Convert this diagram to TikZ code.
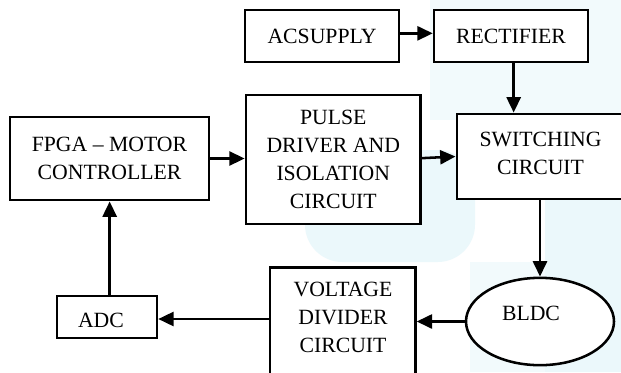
\documentclass[tikz,border=0pt]{standalone}
\usepackage{fontspec}
\setmainfont{Liberation Serif}
\usetikzlibrary{arrows.meta,shapes.geometric}
\definecolor{wm}{HTML}{EBF8FB}
\definecolor{wmb}{HTML}{F2FAFC}
\begin{document}
\begin{tikzpicture}[x=0.75pt,y=-0.75pt,
  every node/.style={font=\fontsize{16.3}{21}\selectfont, inner sep=0pt},
  blk/.style={draw, line width=1.9pt, fill=white, rectangle, align=center},
  conn/.style={line width=1.9pt, -{Triangle[length=11.5pt,width=10.5pt]}},
  txt/.style={align=center}]
\useasboundingbox (0,0) rectangle (621,372);
\clip (0,0) rectangle (621,372);
\fill[white] (0,0) rectangle (621,372);
% faint watermark
\fill[wmb] (430,0) rectangle (621,120);
\fill[wm, rounded corners=28pt] (305,150) rectangle (475,262);
\fill[wm] (545,200) rectangle (621,372);
\fill[wmb] (470,262) rectangle (545,372);
% blocks
\node[blk, minimum width=115.5pt, minimum height=39pt] (acs) at (322,36) {ACSUPPLY};
\node[blk, minimum width=115.5pt, minimum height=39pt] (rect) at (511,36) {RECTIFIER};
\node[blk, minimum width=131pt, minimum height=97pt] (pulse) at (333.25,159.5) {PULSE\\DRIVER AND\\ISOLATION\\CIRCUIT};
\node[blk, minimum width=149pt, minimum height=62.5pt] (fpga) at (109.5,158.5) {FPGA -- MOTOR\\CONTROLLER};
\node[blk, minimum width=140pt, minimum height=64pt, anchor=west] (sw) at (455.5,156.5) {};
\node[txt] (swt) at (540.5,153) {SWITCHING\\CIRCUIT};
\node[blk, minimum width=109pt, minimum height=100pt, anchor=north] (vdc) at (342.75,266) {};
\node[txt] (vdct) at (343,317.5) {VOLTAGE\\DIVIDER\\CIRCUIT};
\node[blk, ellipse, minimum width=111pt, minimum height=65.5pt] (bldc) at (540,321.5) {};
\node[txt] (bldct) at (531,313) {BLDC};
\node[blk, minimum width=75pt, minimum height=31.5pt] (adc) at (107,317) {};
\node[txt] (adct) at (101,320) {ADC};
% connectors
\draw[conn] ([yshift=2pt]acs.east) -- ([yshift=2pt]rect.west);
\draw[conn] ([xshift=2pt]rect.south) -- ([xshift=2pt]rect.south |- sw.north);
\draw[conn] (fpga.east) -- (fpga.east -| pulse.west);
\draw[conn] ([yshift=1pt]pulse.east) -- (sw.west);
\draw[conn] (bldc.north |- sw.south) -- (bldc.north);
\draw[conn] (bldc.west) -- (bldc.west -| vdc.east);
\draw[conn] ([yshift=-1.5pt]adc.east -| vdc.west) -- ([yshift=-1.5pt]adc.east);
\draw[conn] ([xshift=2pt]adc.north) -- ([xshift=2pt]adc.north |- fpga.south);
\end{tikzpicture}
\end{document}
